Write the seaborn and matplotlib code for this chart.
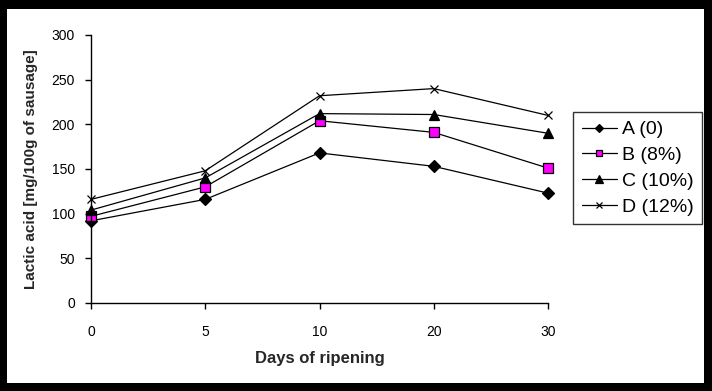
import matplotlib
matplotlib.use("Agg")
import matplotlib.pyplot as plt
import seaborn as sns
from matplotlib.patches import Rectangle

days = ["0", "5", "10", "20", "30"]
series_a = [92, 116, 168, 153, 123]
series_b = [97, 130, 204, 191, 151]
series_c = [104, 140, 212, 211, 190]
series_d = [116, 148, 232, 240, 210]
labels = ["A (0)", "B (8%)", "C (10%)", "D (12%)"]

sns.set_theme(style="white")
plt.rcParams["font.family"] = ["Liberation Sans", "DejaVu Sans"]

fig = plt.figure(figsize=(7.12, 3.91), dpi=100, facecolor="black")
# white chart area inside the black frame (drawn behind the axes)
fig.patches.append(Rectangle((7 / 712, 1 - 383 / 391), 697 / 712, 374 / 391,
                             transform=fig.transFigure, facecolor="white",
                             edgecolor="none", zorder=-10))
ax = fig.add_axes([91 / 712, 1 - 303 / 391, 457 / 712, 268 / 391])
ax.set_facecolor("white")

styles = [
    (series_a, "D", "black", 6),
    (series_b, "s", "#ff00ff", 6.5),
    (series_c, "^", "black", 7),
    (series_d, "x", "black", 6),
]
for (vals, mk, fc, ms), lab in zip(styles, labels):
    sns.lineplot(x=days, y=vals, ax=ax, sort=False, color="black", linewidth=0.9,
                 marker=mk, markersize=ms, markerfacecolor=fc,
                 markeredgecolor="black", markeredgewidth=0.9, label=lab,
                 clip_on=False)

ax.set_xlim(0, 4)
ax.set_ylim(0, 300)
ax.set_yticks(range(0, 301, 50))
for side in ["top", "right"]:
    ax.spines[side].set_visible(False)
for side in ["left", "bottom"]:
    ax.spines[side].set_color("black")
    ax.spines[side].set_linewidth(1)
ax.tick_params(axis="both", direction="out", length=4.5, width=1, color="black",
               labelsize=10, labelcolor="black", left=True, bottom=True)
ax.tick_params(axis="x", pad=11)
ax.tick_params(axis="y", pad=7)

ax.set_xlabel("Days of ripening", fontsize=12, fontweight="bold", labelpad=9)
ax.set_ylabel("Lactic acid [mg/100g of sausage]", fontsize=11, fontweight="bold", labelpad=10)

leg = ax.legend(loc="upper left", bbox_to_anchor=(573 / 712, 1 - 112 / 391),
                bbox_transform=fig.transFigure, frameon=True, fancybox=False,
                fontsize=14, markerscale=0.75, handlelength=1.8, handletextpad=0.26,
                borderpad=0.45, labelspacing=0.42, borderaxespad=0)
leg.get_frame().set_edgecolor("black")
leg.get_frame().set_linewidth(1)
for t in leg.get_texts():
    t.set_color("black")

fig.savefig("out.png", dpi=100, facecolor="black")
